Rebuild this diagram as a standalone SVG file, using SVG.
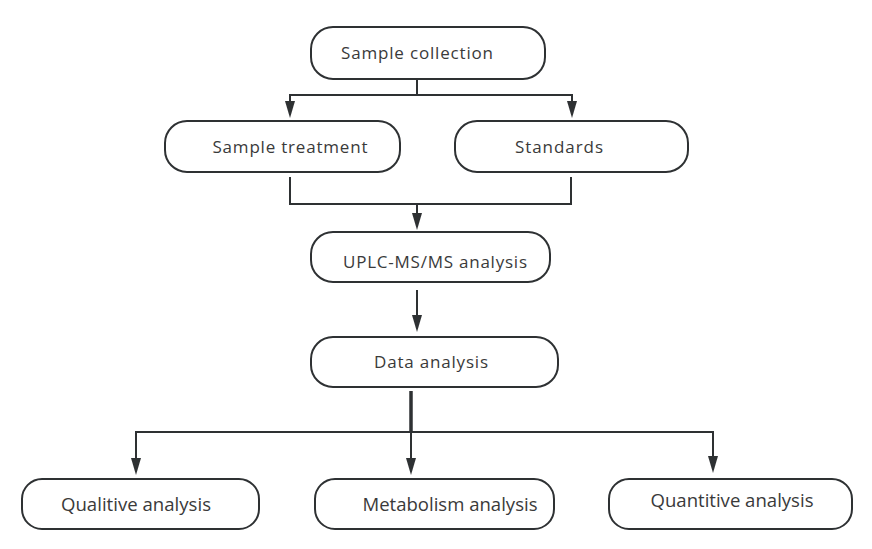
<svg xmlns="http://www.w3.org/2000/svg" width="872" height="549" viewBox="0 0 872 549">
<style>
.box{fill:#fff;stroke:#2e3133;stroke-width:2}
.t{font-family:"Open Sans","Noto Sans",sans-serif;font-size:17px;fill:#3a3a3a;text-anchor:middle}
.b{font-size:18px}
.c{fill:none;stroke:#2e3133;stroke-width:2}
.a{fill:#2e3133}
</style>
<rect width="872" height="549" fill="#fff"/>
<g id="connectors">
<path class="c" d="M417,79 V95 M290,95 H572"/>
<path class="c" d="M290,94 V102"/>
<path class="a" d="M285,101 L295,101 L290,118 Z"/>
<path class="c" d="M572,94 V102"/>
<path class="a" d="M567,101 L577,101 L572,118 Z"/>
<path class="c" d="M290,177 V204 H571 V177"/>
<path class="c" d="M417,204 V214"/>
<path class="a" d="M412,213 L422,213 L417,230 Z"/>
<path class="c" d="M417,290 V316"/>
<path class="a" d="M412,315 L422,315 L417,332 Z"/>
<path fill="none" stroke="#2e3133" stroke-width="3.5" d="M411,391 V433"/>
<path class="c" d="M136,460 V432 H713 V458"/>
<path class="c" d="M411,432 V460"/>
<path class="a" d="M131,458 L141,458 L136,475 Z"/>
<path class="a" d="M406,458 L416,458 L411,475 Z"/>
<path class="a" d="M708,456 L718,456 L713,473 Z"/>
</g>
<g id="n1"><rect class="box" x="311" y="27" width="234" height="52" rx="22"/><text class="t" x="417" y="59" textLength="152">Sample collection</text></g>
<g id="n2"><rect class="box" x="165" y="121" width="235" height="51" rx="22"/><text class="t" x="290" y="153" textLength="155">Sample treatment</text></g>
<g id="n3"><rect class="box" x="455" y="121" width="233" height="51" rx="22"/><text class="t" x="559" y="153" textLength="88">Standards</text></g>
<g id="n4"><rect class="box" x="311" y="232" width="239" height="50" rx="22"/><text class="t" x="435" y="268" textLength="184">UPLC-MS/MS analysis</text></g>
<g id="n5"><rect class="box" x="311" y="337" width="247" height="50" rx="22"/><text class="t" x="431" y="368" textLength="114">Data analysis</text></g>
<g id="n6"><rect class="box" x="22" y="479" width="237" height="50" rx="20"/><text class="t b" x="136" y="511" textLength="150" lengthAdjust="spacingAndGlyphs">Qualitive analysis</text></g>
<g id="n7"><rect class="box" x="315" y="479" width="239" height="50" rx="20"/><text class="t b" x="450" y="511" textLength="175" lengthAdjust="spacingAndGlyphs">Metabolism analysis</text></g>
<g id="n8"><rect class="box" x="609" y="479" width="243" height="50" rx="20"/><text class="t b" x="732" y="507" textLength="163" lengthAdjust="spacingAndGlyphs">Quantitive analysis</text></g>
</svg>
